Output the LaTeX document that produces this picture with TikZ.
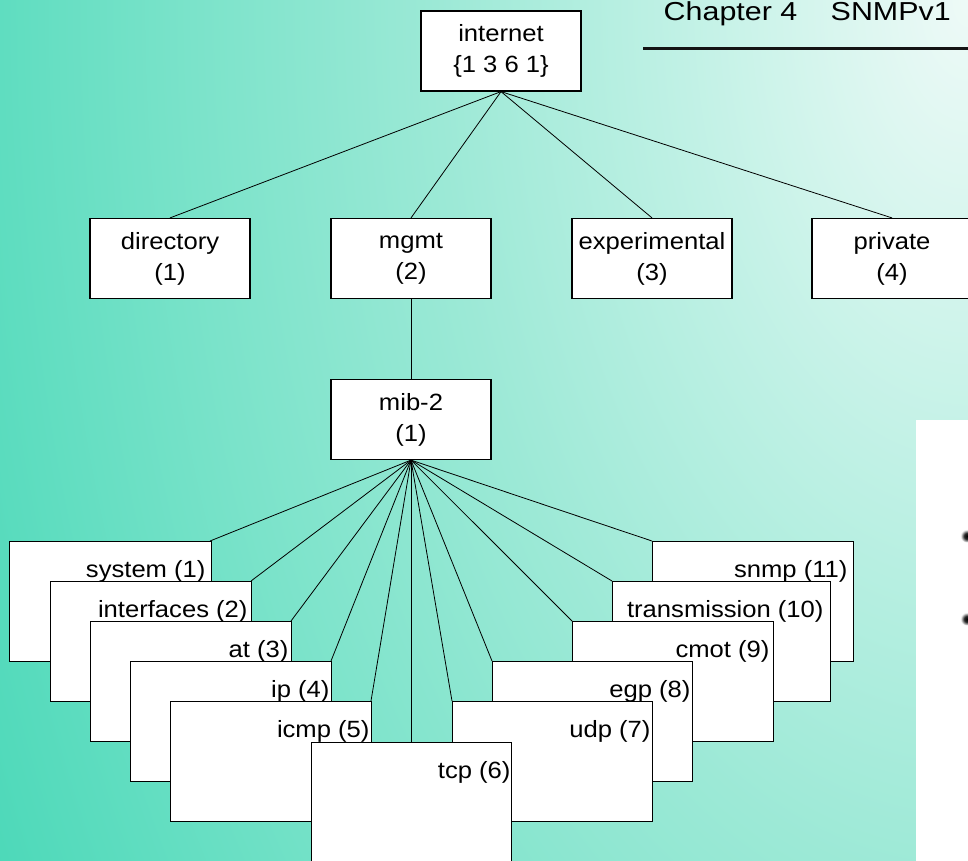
\documentclass[tikz,border=0pt]{standalone}
\usepackage{fontspec}
\newfontfamily\slidefont{Liberation Sans}[FakeStretch=1.09]
\newfontfamily\chapfamily{Liberation Sans}[FakeStretch=1.17]
\newcommand\oidfont{\slidefont\fontsize{23.5}{31}\selectfont}
\newcommand\chapfont{\chapfamily\fontsize{26}{30}\selectfont}

% slide background: elliptical fade from the top right corner
\definecolor{bgA}{HTML}{EEFAF7}
\definecolor{bgB}{HTML}{C0F1E5}
\definecolor{bgC}{HTML}{9CE9D6}
\definecolor{bgD}{HTML}{7BE3CA}
\definecolor{bgE}{HTML}{5FDDC0}
\definecolor{bgF}{HTML}{4BD8B8}
\pgfdeclareradialshading{slidebg}{\pgfpointorigin}{%
  color(0bp)=(bgA); color(6.25bp)=(bgB); color(11.46bp)=(bgC);
  color(16.67bp)=(bgD); color(20.83bp)=(bgE); color(23.96bp)=(bgF);
  color(50bp)=(bgF)}
% soft bullet dot
\pgfdeclareradialshading{softdot}{\pgfpointorigin}{%
  color(0bp)=(black); color(11bp)=(black!85); color(25bp)=(white); color(50bp)=(white)}

\tikzset{
  oidbox/.style={draw=black, line width=1.2pt, fill=white, minimum width=160pt,
    minimum height=80pt, inner sep=0pt, align=center, font=\oidfont},
  leafbox/.style={draw=black, line width=1.2pt, fill=white, inner sep=0pt,
    anchor=north west, minimum height=120pt},
  leaflabel/.style={anchor=base east, inner sep=0pt, font=\oidfont},
  branch/.style={draw=black, line width=0.8pt}
}

\begin{document}
\begin{tikzpicture}[x=1pt, y=-1pt]
\useasboundingbox (0,0) rectangle (968,860);
\begin{scope}
\clip (0,0) rectangle (968,860);
\shade[shading=slidebg] (-194,-1940) rectangle (2130,1940);

% chapter heading and rule
\node[anchor=base west, inner sep=0pt, font=\chapfont] (chapter) at (663.5,20)
  {Chapter 4\hspace{25pt} SNMPv1};
\coordinate (ruleL) at (643,48.5);
\coordinate (ruleR) at (970,48.5);
\draw[line width=3pt, black!92] (ruleL) -- (ruleR);

% right-hand panel with clipped bullets
\fill[white] (916,420) rectangle (972,864);
\shade[shading=softdot] (967,536) circle (6.5);
\shade[shading=softdot] (967,619) circle (6.5);

% upper levels of the tree
\node[oidbox] (internet) at (501,51) {internet\\\{1 3 6 1\}};
\node[oidbox] (directory) at (170,258.5) {directory\\(1)};
\node[oidbox] (mgmt) at (411,258.5) {mgmt\\(2)};
\node[oidbox] (experimental) at (652,258.5) {experimental\\(3)};
\node[oidbox] (private) at (892,258.5) {private\\(4)};
\node[oidbox] (mib2) at (411,419.5) {mib-2\\(1)};

\foreach \child in {directory, mgmt, experimental, private}
  \draw[branch] (internet.south) -- (\child.north);
\draw[branch] (mgmt.south) -- (mib2.north);

% mib-2 groups, each box as its own node
\coordinate (pos-system) at (9,541);
\coordinate (pos-interfaces) at (50,581);
\coordinate (pos-at) at (90,621);
\coordinate (pos-ip) at (130,661);
\coordinate (pos-icmp) at (170,701);
\coordinate (pos-snmp) at (652,541);
\coordinate (pos-transmission) at (612,581);
\coordinate (pos-cmot) at (572,621);
\coordinate (pos-egp) at (492,661);
\coordinate (pos-udp) at (452,701);
\coordinate (pos-tcp) at (311,742);

% branches from mib-2 to the group corners
\foreach \g in {system, interfaces, at, ip, icmp}
  \draw[branch] (mib2.south) -- ([xshift=201pt]pos-\g);
\foreach \g in {snmp, transmission, cmot, egp, udp}
  \draw[branch] (mib2.south) -- (pos-\g);
\draw[branch] (mib2.south) -- ([xshift=100pt]pos-tcp);

% left stack, back to front
\node[leafbox, minimum width=202pt] (system) at (pos-system) {};
\node[leaflabel] (system-t) at ([xshift=-6.5pt,yshift=-36pt]system.north east) {system (1)};
\node[leafbox, minimum width=201pt] (interfaces) at (pos-interfaces) {};
\node[leaflabel] (interfaces-t) at ([xshift=-4.5pt,yshift=-36pt]interfaces.north east) {interfaces (2)};
\node[leafbox, minimum width=201pt] (at) at (pos-at) {};
\node[leaflabel] (at-t) at ([xshift=-3.5pt,yshift=-36pt]at.north east) {at (3)};
\node[leafbox, minimum width=201pt] (ip) at (pos-ip) {};
\node[leaflabel] (ip-t) at ([xshift=-2.5pt,yshift=-36pt]ip.north east) {ip (4)};
\node[leafbox, minimum width=201pt] (icmp) at (pos-icmp) {};
\node[leaflabel] (icmp-t) at ([xshift=-2.5pt,yshift=-36pt]icmp.north east) {icmp (5)};

% right stack, back to front
\node[leafbox, minimum width=201pt] (snmp) at (pos-snmp) {};
\node[leaflabel] (snmp-t) at ([xshift=-6.5pt,yshift=-36pt]snmp.north east) {snmp (11)};
\node[leafbox, minimum width=218pt] (transmission) at (pos-transmission) {};
\node[leaflabel] (transmission-t) at ([xshift=-7.5pt,yshift=-36pt]transmission.north east) {transmission (10)};
\node[leafbox, minimum width=201pt] (cmot) at (pos-cmot) {};
\node[leaflabel] (cmot-t) at ([xshift=-4.5pt,yshift=-36pt]cmot.north east) {cmot (9)};
\node[leafbox, minimum width=200pt] (egp) at (pos-egp) {};
\node[leaflabel] (egp-t) at ([xshift=-2.5pt,yshift=-36pt]egp.north east) {egp (8)};
\node[leafbox, minimum width=200pt] (udp) at (pos-udp) {};
\node[leaflabel] (udp-t) at ([xshift=-2.5pt,yshift=-36pt]udp.north east) {udp (7)};

% front box
\node[leafbox, minimum width=200pt] (tcp) at (pos-tcp) {};
\node[leaflabel] (tcp-t) at ([xshift=-1.5pt,yshift=-36pt]tcp.north east) {tcp (6)};
\end{scope}
\end{tikzpicture}
\end{document}
